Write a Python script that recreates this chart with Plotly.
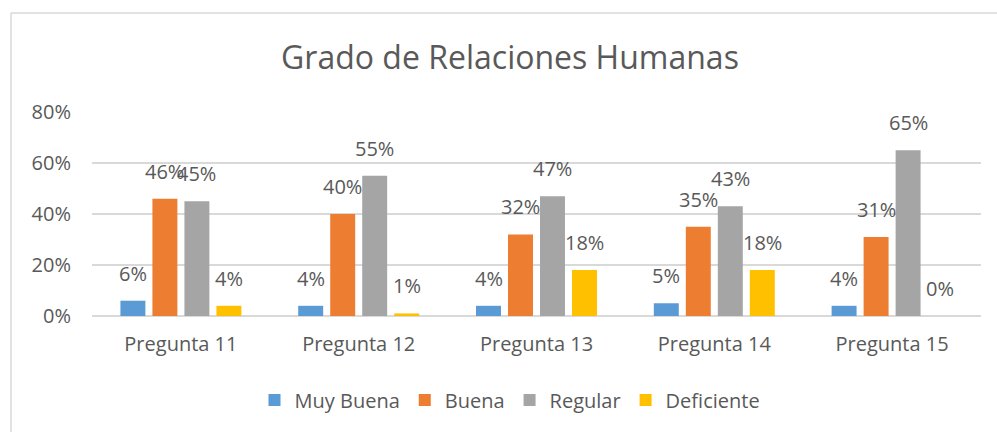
import plotly.graph_objects as go

categories = ["Pregunta 11", "Pregunta 12", "Pregunta 13", "Pregunta 14", "Pregunta 15"]
series_names = ["Muy Buena", "Buena", "Regular", "Deficiente"]
muy_buena = [0.06, 0.04, 0.04, 0.05, 0.04]
buena = [0.46, 0.40, 0.32, 0.35, 0.31]
regular = [0.45, 0.55, 0.47, 0.43, 0.65]
deficiente = [0.04, 0.01, 0.18, 0.18, 0.00]
y_tick_vals = [0, 0.2, 0.4, 0.6, 0.8]
y_tick_text = ["0%", "20%", "40%", "60%", "80%"]

colors = ["#5B9BD5", "#ED7D31", "#A5A5A5", "#FFC000"]
all_series = [muy_buena, buena, regular, deficiente]
TXT = "#595959"
FONT = "Open Sans"

fig = go.Figure()
for name, vals, col in zip(series_names, all_series, colors):
    fig.add_trace(go.Bar(x=categories, y=vals, name=name, marker=dict(color=col, line=dict(width=0)),
                         hoverinfo="skip"))

annotations = []
slot_px = 32
for j, vals in enumerate(all_series):
    for cat, v in zip(categories, vals):
        annotations.append(dict(x=cat, y=v, xref="x", yref="y", text=f"{round(v*100)}%",
                                showarrow=False, xanchor="center", yanchor="bottom",
                                xshift=(j - 1.5) * slot_px, yshift=12,
                                font=dict(family=FONT, size=20, color=TXT)))

fig.update_layout(
    width=997, height=432,
    margin=dict(l=92, r=16, t=112, b=116),
    paper_bgcolor="white", plot_bgcolor="white",
    barmode="group", bargap=0.28, bargroupgap=0.22,
    font=dict(family=FONT, size=20, color=TXT),
    title=dict(text="Grado de Relaciones Humanas", x=510/997, xanchor="center",
               y=1 - 58/432, yanchor="middle",
               font=dict(family=FONT, size=32, color=TXT)),
    legend=dict(orientation="h", xref="container", yref="container",
                x=510/997, xanchor="center", y=1 - 400/432, yanchor="middle",
                font=dict(family=FONT, size=20, color=TXT), traceorder="normal"),
    annotations=annotations,
    shapes=[
        dict(type="line", xref="paper", yref="paper",
             x0=(11-92)/889, x1=(1000-92)/889, y0=(432-13-116)/204, y1=(432-13-116)/204,
             line=dict(color="#D9D9D9", width=1.5)),
        dict(type="line", xref="paper", yref="paper",
             x0=(11-92)/889, x1=(11-92)/889, y0=(432-13-116)/204, y1=-120/204,
             line=dict(color="#D9D9D9", width=1.5)),
    ],
)
fig.update_xaxes(showgrid=False, showline=False, zeroline=False, ticks="",
                 ticklabelstandoff=14, tickfont=dict(family=FONT, size=20, color=TXT))
fig.update_yaxes(range=[0, 0.8], tickvals=y_tick_vals, ticktext=y_tick_text,
                 showgrid=True, gridcolor="#D9D9D9", gridwidth=1.5,
                 zeroline=True, zerolinecolor="#D9D9D9", zerolinewidth=1.5,
                 showline=False, ticks="", ticklabelstandoff=20,
                 tickfont=dict(family=FONT, size=20, color=TXT))

fig.write_html("out.html", config={"displayModeBar": False},
               post_script="document.body.style.margin='0';document.body.style.padding='0';")
